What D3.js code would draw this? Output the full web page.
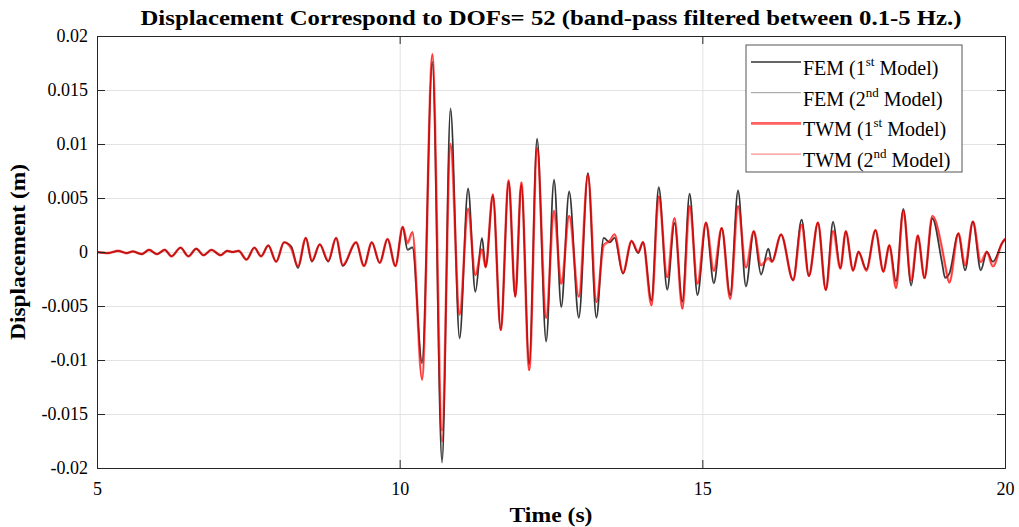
<!DOCTYPE html>
<head>
<meta charset="utf-8">
<script src="https://d3js.org/d3.v7.min.js"></script>
<style>
  body { margin: 0; background: #fff; }
  text { font-family: "Liberation Serif", "Times New Roman", serif; fill: #000; }
  .grid line { stroke: #e3e3e3; stroke-width: 1; }
  .grid path { display: none; }
  .axis path { stroke: #262626; }
  .axis line { stroke: #262626; }
  .axis text { font-size: 18px; }
</style>
</head>
<body>
<script>
// sample times (s) of the read-off extrema
var time = [5.00, 5.18, 5.35, 5.49, 5.59, 5.74, 5.86, 5.99, 6.12, 6.23,
  6.38, 6.51, 6.64, 6.76, 6.89, 7.04, 7.15, 7.24, 7.34, 7.47,
  7.60, 7.71, 7.83, 7.96, 8.09, 8.21, 8.32, 8.45, 8.55, 8.68,
  8.82, 8.95, 9.06, 9.28, 9.41, 9.54, 9.67, 9.80, 9.93, 10.05,
  10.13, 10.21, 10.37, 10.54, 10.70, 10.84, 10.99, 11.13, 11.25, 11.36,
  11.42, 11.54, 11.67, 11.80, 11.91, 12.01, 12.14, 12.27, 12.42, 12.55,
  12.67, 12.80, 12.96, 13.11, 13.25, 13.37, 13.47, 13.55, 13.69, 13.83,
  13.94, 14.02, 14.16, 14.28, 14.42, 14.54, 14.67, 14.79, 14.92, 15.06,
  15.19, 15.32, 15.46, 15.59, 15.72, 15.85, 15.97, 16.09, 16.15, 16.30,
  16.50, 16.64, 16.76, 16.91, 17.04, 17.16, 17.28, 17.37, 17.49, 17.58,
  17.71, 17.86, 17.99, 18.09, 18.20, 18.32, 18.45, 18.56, 18.67, 18.80,
  18.96, 19.01, 19.08, 19.23, 19.34, 19.47, 19.60, 19.70, 19.80, 19.95,
  20.00];

var fem1 = [0, -0.0001, 0.0001, -0.0001, 0.00005, -0.0002, 0.0002, -0.0002, 0.0002, -0.0004,
  0.0004, -0.0004, 0.0003, -0.0003, 0.0002, -0.0003, 0.0001, 0.0000, 0.0001, -0.0007,
  0.0004, -0.0004, 0.0006, -0.0009, 0.0009, 0.0005, -0.0015, 0.0013, -0.0009, 0.0007,
  -0.0009, 0.0013, -0.0013, 0.0009, -0.0013, 0.0009, -0.0010, 0.0012, -0.0013, 0.0023,
  0.0002, 0.0004, -0.0103, 0.0176, -0.0195, 0.0133, -0.0080, 0.0059, -0.0037, 0.0013,
  -0.0014, 0.0052, -0.0072, 0.0065, -0.0041, 0.0062, -0.0104, 0.0105, -0.0083, 0.0067,
  -0.0051, 0.0056, -0.0061, 0.0073, -0.0061, 0.0013, 0.0009, 0.0013, -0.0020, 0.0010,
  -0.0001, 0.0009, -0.0045, 0.0060, -0.0035, 0.0027, -0.0046, 0.0054, -0.0040, 0.0027,
  -0.0029, 0.0022, -0.0040, 0.0057, -0.0032, 0.0019, -0.0021, 0.0003, -0.0009, 0.0016,
  -0.0026, 0.0030, -0.0022, 0.0027, -0.0035, 0.0028, -0.0015, 0.0019, -0.0017, 0.0000,
  -0.0016, 0.0020, -0.0018, 0.0006, -0.0027, 0.0040, -0.0031, 0.0015, -0.0024, 0.0031,
  -0.0010, -0.0024, -0.0020, 0.0017, -0.0017, 0.0028, -0.0017, 0.0000, -0.0009, 0.0008,
  0.0012];

var fem2 = [0, -0.0001, 0.0001, -0.0001, 0.00005, -0.0002, 0.0002, -0.0002, 0.0002, -0.0004,
  0.0004, -0.0004, 0.0003, -0.0003, 0.0002, -0.0003, 0.0001, 0.0000, 0.0001, -0.0007,
  0.0004, -0.0004, 0.0006, -0.0009, 0.0009, 0.0005, -0.0014, 0.0013, -0.0009, 0.0007,
  -0.0009, 0.0013, -0.0013, 0.0009, -0.0013, 0.0009, -0.0010, 0.0012, -0.0013, 0.0023,
  0.0003, 0.0005, -0.0101, 0.0174, -0.0192, 0.0131, -0.0079, 0.0058, -0.0036, 0.0012,
  -0.0014, 0.0052, -0.0071, 0.0064, -0.0041, 0.0062, -0.0103, 0.0104, -0.0082, 0.0066,
  -0.0050, 0.0055, -0.0060, 0.0073, -0.0060, 0.0013, 0.0009, 0.0013, -0.0020, 0.0010,
  -0.0001, 0.0009, -0.0045, 0.0059, -0.0034, 0.0027, -0.0046, 0.0053, -0.0039, 0.0027,
  -0.0028, 0.0022, -0.0040, 0.0056, -0.0031, 0.0019, -0.0020, 0.0003, -0.0009, 0.0016,
  -0.0026, 0.0030, -0.0022, 0.0027, -0.0035, 0.0027, -0.0015, 0.0019, -0.0017, 0.0000,
  -0.0016, 0.0020, -0.0018, 0.0006, -0.0027, 0.0039, -0.0030, 0.0015, -0.0024, 0.0031,
  -0.0010, -0.0023, -0.0020, 0.0017, -0.0017, 0.0028, -0.0016, 0.0000, -0.0009, 0.0008,
  0.0012];

var twm1 = [0, -0.0001, 0.0001, -0.0001, 0.00005, -0.0002, 0.0002, -0.0002, 0.0002, -0.0004,
  0.0004, -0.0004, 0.0003, -0.0003, 0.0002, -0.0003, 0.0001, 0.0000, 0.0001, -0.0007,
  0.0004, -0.0004, 0.0006, -0.0009, 0.0009, 0.0003, -0.0013, 0.0013, -0.0008, 0.0007,
  -0.0008, 0.0013, -0.0012, 0.0009, -0.0013, 0.0009, -0.0010, 0.0012, -0.0013, 0.0023,
  0.0008, 0.0018, -0.0117, 0.0182, -0.0165, 0.0098, -0.0057, 0.0039, -0.0021, 0.0002,
  -0.0014, 0.0053, -0.0072, 0.0066, -0.0041, 0.0064, -0.0109, 0.0095, -0.0060, 0.0037,
  -0.0029, 0.0033, -0.0041, 0.0071, -0.0046, 0.0006, 0.0010, 0.0016, -0.0019, 0.0010,
  0.0000, 0.0009, -0.0049, 0.0051, -0.0023, 0.0031, -0.0052, 0.0042, -0.0029, 0.0027,
  -0.0017, 0.0022, -0.0043, 0.0042, -0.0014, 0.0019, -0.0012, -0.0006, -0.0009, 0.0016,
  -0.0026, 0.0025, -0.0022, 0.0027, -0.0035, 0.0019, -0.0015, 0.0019, -0.0017, 0.0000,
  -0.0017, 0.0020, -0.0018, 0.0006, -0.0033, 0.0038, -0.0026, 0.0015, -0.0024, 0.0033,
  0.0003, -0.0012, -0.0028, 0.0017, -0.0012, 0.0028, -0.0009, 0.0000, -0.0013, 0.0008,
  0.0012];

var twm2 = [0, -0.0001, 0.0001, -0.0001, 0.00005, -0.0002, 0.0002, -0.0002, 0.0002, -0.0004,
  0.0004, -0.0004, 0.0003, -0.0003, 0.0002, -0.0003, 0.0001, 0.0000, 0.0001, -0.0007,
  0.0004, -0.0004, 0.0006, -0.0009, 0.0009, 0.0003, -0.0013, 0.0013, -0.0008, 0.0007,
  -0.0008, 0.0013, -0.0012, 0.0009, -0.0013, 0.0009, -0.0010, 0.0012, -0.0013, 0.0024,
  0.0009, 0.0019, -0.0119, 0.0184, -0.0176, 0.0101, -0.0059, 0.0041, -0.0022, 0.0003,
  -0.0014, 0.0054, -0.0073, 0.0067, -0.0042, 0.0065, -0.0110, 0.0097, -0.0062, 0.0039,
  -0.0030, 0.0034, -0.0042, 0.0072, -0.0047, 0.0007, 0.0011, 0.0017, -0.0020, 0.0011,
  0.0000, 0.0010, -0.0050, 0.0052, -0.0024, 0.0032, -0.0053, 0.0043, -0.0030, 0.0028,
  -0.0018, 0.0023, -0.0044, 0.0043, -0.0015, 0.0020, -0.0013, -0.0005, -0.0009, 0.0017,
  -0.0027, 0.0026, -0.0023, 0.0028, -0.0036, 0.0020, -0.0016, 0.0020, -0.0018, 0.0001,
  -0.0018, 0.0021, -0.0019, 0.0007, -0.0034, 0.0039, -0.0027, 0.0016, -0.0025, 0.0034,
  0.0004, -0.0011, -0.0029, 0.0018, -0.0013, 0.0029, -0.0010, 0.0001, -0.0014, 0.0009,
  0.0013];

var xTicks = [5, 10, 15, 20];
var yTicks = [-0.02, -0.015, -0.01, -0.005, 0, 0.005, 0.01, 0.015, 0.02];

var margin = {top: 36, right: 14, bottom: 59, left: 97};
var W = 1019, H = 527;
var width = W - margin.left - margin.right;
var height = H - margin.top - margin.bottom;

var svg = d3.select("body").append("svg")
    .attr("width", W)
    .attr("height", H);

var g = svg.append("g")
    .attr("transform", "translate(" + margin.left + "," + margin.top + ")");

var x = d3.scaleLinear().domain([5, 20]).range([0, width]);
var y = d3.scaleLinear().domain([-0.02, 0.02]).range([height, 0]);

// grid
g.append("g").attr("class", "grid")
    .call(d3.axisLeft(y).tickValues(yTicks).tickSize(-width).tickFormat(""));
g.append("g").attr("class", "grid")
    .attr("transform", "translate(0," + height + ")")
    .call(d3.axisBottom(x).tickValues(xTicks).tickSize(-height).tickFormat(""));

var fmt = function(d) { return d === 0 ? "0" : String(+d.toFixed(3)); };

var series = [
  {name: "FEM", sup: "st", val: fem1, color: "rgba(0,0,0,0.7)", w: 1.8, legColor: "#333", legW: 1.5},
  {name: "FEM", sup: "nd", val: fem2, color: "rgba(0,0,0,0.35)", w: 1, legColor: "#999", legW: 1},
  {name: "TWM", sup: "st", val: twm1, color: "rgba(255,0,0,0.55)", w: 2.6, legColor: "#ff6060", legW: 2.6},
  {name: "TWM", sup: "nd", val: twm2, color: "rgba(255,0,0,0.6)", w: 1, legColor: "#ff7070", legW: 1}
];

var line = d3.line()
    .x(function(d) { return x(d[0]); })
    .y(function(d) { return y(d[1]); })
    .curve(d3.curveMonotoneX);

g.append("defs").append("clipPath").attr("id", "clip")
  .append("rect").attr("width", width).attr("height", height);

series.forEach(function(s) {
  g.append("path")
    .datum(d3.zip(time, s.val))
    .attr("clip-path", "url(#clip)")
    .attr("fill", "none")
    .attr("stroke", s.color)
    .attr("stroke-width", s.w)
    .attr("stroke-linejoin", "round")
    .attr("d", line);
});

// axes (ticks point inward like the original)
g.append("g").attr("class", "axis")
    .call(d3.axisLeft(y).tickValues(yTicks).tickSize(-8).tickPadding(9).tickFormat(fmt));
g.append("g").attr("class", "axis")
    .attr("transform", "translate(" + width + ",0)")
    .call(d3.axisRight(y).tickValues(yTicks).tickSize(-8).tickFormat(""));
g.append("g").attr("class", "axis")
    .attr("transform", "translate(0," + height + ")")
    .call(d3.axisBottom(x).tickValues(xTicks).tickSize(-8).tickPadding(14).tickFormat(d3.format("d")));
g.append("g").attr("class", "axis")
    .call(d3.axisTop(x).tickValues(xTicks).tickSize(-8).tickFormat(""));

// titles
svg.append("text")
    .attr("x", margin.left + width / 2)
    .attr("y", 25)
    .attr("text-anchor", "middle")
    .attr("font-weight", "bold")
    .attr("font-size", "20px")
    .attr("textLength", 821)
    .attr("lengthAdjust", "spacingAndGlyphs")
    .text("Displacement Correspond to DOFs= 52 (band-pass filtered between 0.1-5 Hz.)");

svg.append("text")
    .attr("x", margin.left + width / 2)
    .attr("y", 522)
    .attr("text-anchor", "middle")
    .attr("font-weight", "bold")
    .attr("font-size", "21px")
    .attr("textLength", 83)
    .attr("lengthAdjust", "spacingAndGlyphs")
    .text("Time (s)");

svg.append("text")
    .attr("transform", "translate(25," + (margin.top + height / 2) + ") rotate(-90)")
    .attr("text-anchor", "middle")
    .attr("font-weight", "bold")
    .attr("font-size", "21px")
    .attr("textLength", 176)
    .attr("lengthAdjust", "spacingAndGlyphs")
    .text("Displacement (m)");

// legend
var leg = svg.append("g").attr("transform", "translate(746,45)");
leg.append("rect")
    .attr("width", 216).attr("height", 127)
    .attr("fill", "#fff").attr("stroke", "#555").attr("stroke-width", 1);

series.forEach(function(s, i) {
  var ly = 17 + i * 30.7;
  leg.append("line")
    .attr("x1", 5).attr("x2", 55).attr("y1", ly).attr("y2", ly)
    .attr("stroke", s.legColor).attr("stroke-width", s.legW);
  var t = leg.append("text")
    .attr("x", 57).attr("y", ly + 13)
    .attr("font-size", "20px");
  t.append("tspan").text(s.name + " (" + (i % 2 === 0 ? "1" : "2"));
  t.append("tspan").attr("dy", -9).attr("font-size", "13px").text(s.sup);
  t.append("tspan").attr("dy", 9).text(" Model)");
});
</script>
</body>
